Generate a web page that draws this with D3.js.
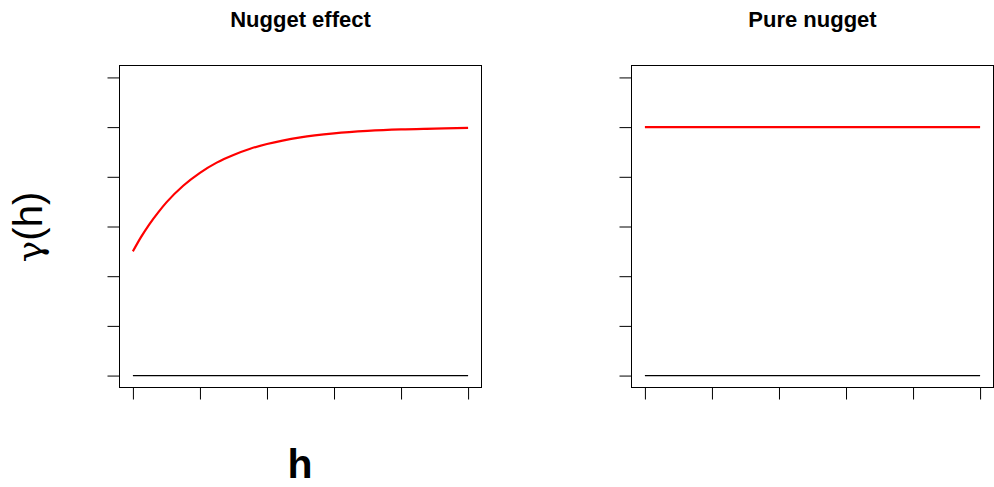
<!DOCTYPE html>
<html>
<head>
<meta charset="utf-8">
<script src="https://cdn.jsdelivr.net/npm/d3@7"></script>
<style>
  html, body { margin: 0; padding: 0; background: #fff; }
  svg { display: block; }
  text { font-family: "Liberation Sans", Arial, Helvetica, sans-serif; }
</style>
</head>
<body>
<svg id="chart" width="994" height="487"></svg>
<script>
// Lag distances and semivariance values for each panel
const panelTitles = ["Nugget effect", "Pure nugget"];
const lagH = [0, 0.125, 0.25, 0.375, 0.5, 0.75, 1, 1.25, 1.5, 1.75, 2, 2.5, 3, 3.5, 4, 4.5, 5];
const nuggetEffect = [0.5, 0.559, 0.611, 0.656, 0.697, 0.764, 0.816, 0.857, 0.888, 0.913, 0.932, 0.959, 0.975, 0.985, 0.991, 0.994, 0.997];
const pureNugget = [1, 1, 1, 1, 1, 1, 1, 1, 1, 1, 1, 1, 1, 1, 1, 1, 1];
const baseline = [0, 0, 0, 0, 0, 0, 0, 0, 0, 0, 0, 0, 0, 0, 0, 0, 0];
const xTicks = [0, 1, 2, 3, 4, 5];
const yTicks = [0, 0.2, 0.4, 0.6, 0.8, 1.0, 1.2];

const svg = d3.select("#chart");

const panels = [
  { title: panelTitles[0], values: nuggetEffect, left: 119.5, right: 481.5 },
  { title: panelTitles[1], values: pureNugget, left: 631.5, right: 993.5 }
];
const plotTop = 65.5, plotBottom = 387.5;

// R-style 4% axis extension
const xDom = [0 - 0.2, 5 + 0.2];
const yDom = [0 - 0.048, 1.2 + 0.048];

panels.forEach(p => {
  const x = d3.scaleLinear().domain(xDom).range([p.left, p.right]);
  const y = d3.scaleLinear().domain(yDom).range([plotBottom, plotTop]);
  const g = svg.append("g");

  // frame
  g.append("rect")
    .attr("x", p.left).attr("y", plotTop)
    .attr("width", p.right - p.left).attr("height", plotBottom - plotTop)
    .attr("fill", "none").attr("stroke", "#000").attr("stroke-width", 1);

  // axes without labels
  const xAxis = d3.axisBottom(x).tickValues(xTicks).tickSize(12).tickFormat("");
  const yAxis = d3.axisLeft(y).tickValues(yTicks).tickSize(12).tickFormat("");
  const gx = g.append("g").attr("transform", `translate(0,${plotBottom})`).call(xAxis);
  const gy = g.append("g").attr("transform", `translate(${p.left},0)`).call(yAxis);
  [gx, gy].forEach(a => {
    a.select(".domain").remove();
    a.selectAll(".tick line").attr("stroke", "#000").attr("stroke-width", 1);
  });

  const line = d3.line().x((d, i) => x(lagH[i])).y(d => y(d));

  // zero reference line
  g.append("path").datum(baseline)
    .attr("d", line).attr("fill", "none")
    .attr("stroke", "#000").attr("stroke-width", 1.2);

  // semivariogram
  g.append("path").datum(p.values)
    .attr("d", line.curve(d3.curveMonotoneX)).attr("fill", "none")
    .attr("stroke", "#ff0000").attr("stroke-width", 2.2);

  // title
  g.append("text")
    .attr("x", (p.left + p.right) / 2).attr("y", 27)
    .attr("text-anchor", "middle")
    .attr("font-weight", "bold").attr("font-size", 22)
    .text(p.title);
});

// shared axis labels
svg.append("text")
  .attr("x", 300).attr("y", 478)
  .attr("text-anchor", "middle")
  .attr("font-weight", "bold").attr("font-size", 41)
  .text("h");

const yLab = svg.append("text")
  .attr("transform", "translate(42,227) rotate(-90)")
  .attr("text-anchor", "middle")
  .attr("font-size", 40);
yLab.append("tspan").attr("font-family", "'DejaVu Serif', serif").attr("font-size", 36).text("γ");
yLab.append("tspan").text("(h)");
</script>
</body>
</html>
